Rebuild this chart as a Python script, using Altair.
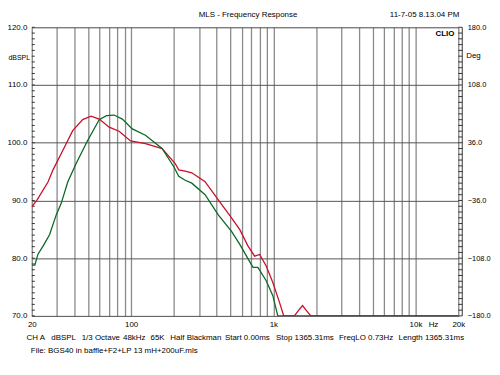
import altair as alt
import pandas as pd

# ---------------- data ----------------
red_freq = [20, 21.8, 26.0, 28.2, 33.1, 38.8, 45.6, 52.2, 59.6, 70, 82.2, 99, 126, 165, 204,
            216, 240, 267, 331, 410, 508, 581, 664, 739, 801, 891, 992, 1105, 1184, 1406,
            1500, 1606, 1700, 1835, 20000]
red_db = [88.9, 90.1, 93.2, 95.3, 98.7, 102.1, 104.0, 104.6, 104.1, 102.7, 102.0, 100.3, 99.85, 99.0, 96.4,
          95.3, 95.1, 94.8, 93.25, 90.1, 87.0, 84.95, 82.1, 80.36, 80.65, 78.64, 75.8, 72.35, 70.0, 70.0,
          70.9, 71.8, 71.0, 70.0, 70.0]

green_freq = [20, 21, 22.1, 24, 26.7, 29.7, 32.2, 35.8, 41, 49.4, 59.6, 67, 75.9, 86.7, 101.8, 126,
              165, 200, 216, 240, 267, 331, 410, 508, 581, 719, 779, 891, 992, 1075, 20000]
green_db = [78.8, 78.8, 80.7, 82.1, 84.1, 87.5, 89.5, 93.2, 96.4, 100.4, 104.0, 104.7, 104.8, 104.1, 102.4, 101.3,
            99.0, 95.8, 94.2, 93.5, 93.0, 91.0, 87.5, 84.65, 82.4, 78.4, 78.4, 76.1, 73.5, 70.0, 70.0]

grid_freqs = [20, 30, 40, 50, 60, 70, 80, 90, 100, 200, 300, 400, 500, 600, 700, 800, 900,
              1000, 2000, 3000, 4000, 5000, 6000, 7000, 8000, 9000, 10000, 20000]
db_ticks = [70, 80, 90, 100, 110, 120]
db_minor = list(range(70, 121))
deg_ticks = [-180, -108, -36, 36, 108, 180]
deg_minor = [-180 + 7.2 * i for i in range(51)]

title_text = "MLS - Frequency Response"
date_text = "11-7-05 8.13.04 PM"
footer_items = ["CH A", "dBSPL", "1/3 Octave", "48kHz", "65K", "Half Blackman",
                "Start 0.00ms", "Stop 1365.31ms", "FreqLO 0.73Hz", "Length 1365.31ms"]
file_text = "File: BGS40 in baffle+F2+LP 13 mH+200uF.mls"

# ---------------- style / layout ----------------
FONT = "Liberation Sans"
FS = 8
W, H = 430, 291
RED = "#c8102a"
GREEN = "#0b6a25"
footer_x = [-5.3, 19.7, 50.3, 92, 119.7, 139.7, 194.7, 246.3, 309.7, 369.7]

red_df = pd.DataFrame({"freq": red_freq, "db": red_db})
green_df = pd.DataFrame({"freq": green_freq, "db": green_db})
one = alt.Data(values=[{}])

xscale = alt.Scale(type="log", domain=[20, 20000], nice=False)
yscale = alt.Scale(domain=[70, 120], nice=False, zero=False)

label_expr = ("datum.value == 20 ? '20' : datum.value == 100 ? '100' : datum.value == 1000 ? '1k' : "
              "datum.value == 10000 ? '10k' : datum.value == 20000 ? '20k' : ''")
xaxis = alt.Axis(values=grid_freqs, grid=True, gridColor="#8a8a8a", gridWidth=1.3,
                 ticks=False, tickSize=0, domain=False, labelExpr=label_expr, labelFlush=False,
                 labelOverlap=False, labelFont=FONT, labelFontSize=FS, labelColor="black",
                 labelPadding=5, title=None)
yaxis = alt.Axis(values=db_ticks, format=".1f", grid=True, gridColor="#555555", gridWidth=1,
                 ticks=False, tickSize=0, domain=False, labelFont=FONT, labelFontSize=FS,
                 labelColor="black", labelPadding=5, title=None)


def txt(s, x, y, align="left", bold=False, size=FS):
    return alt.Chart(one).mark_text(text=s, align=align, baseline="middle", font=FONT,
                                    fontSize=size, fontWeight="bold" if bold else "normal",
                                    color="black").encode(x=alt.value(x), y=alt.value(y))


green_line = alt.Chart(green_df).mark_line(color=GREEN, strokeWidth=1.3, clip=True).encode(
    x=alt.X("freq:Q", scale=xscale, axis=xaxis),
    y=alt.Y("db:Q", scale=yscale, axis=yaxis),
)
red_line = alt.Chart(red_df).mark_line(color=RED, strokeWidth=1.3, clip=True).encode(
    x=alt.X("freq:Q", scale=xscale, axis=xaxis),
    y=alt.Y("db:Q", scale=yscale, axis=yaxis),
)

left_ticks = alt.Chart(pd.DataFrame({"db": db_minor})).mark_rule(color="#333333", strokeWidth=1).encode(
    y=alt.Y("db:Q", scale=yscale, axis=yaxis), x=alt.value(0), x2=alt.value(3)
)

texts = [
    txt(title_text, 218, -12, align="center"),
    txt(date_text, 361, -12),
    txt("dBSPL", -23.5, 31, size=7),
    txt("Deg", 438, 29),
    txt("CLIO", 416.5, 6.5, align="center", bold=True),
    txt("Hz", 405, 300.5, align="center"),
    txt(file_text, -1, 326.5),
] + [txt(s, x, 313) for s, x in zip(footer_items, footer_x)]

inner = alt.layer(left_ticks, red_line, green_line, *texts)

deg_scale = alt.Scale(domain=[-180, 180], nice=False, zero=False)
right_axis = alt.Axis(orient="right", values=deg_ticks, format=".1f", grid=False, ticks=False,
                      tickSize=0, domain=False, labelFont=FONT, labelFontSize=7.5,
                      labelColor="black", labelPadding=9, title=None)
right_ticks = alt.Chart(pd.DataFrame({"deg": deg_minor})).mark_rule(color="#333333", strokeWidth=1).encode(
    y=alt.Y("deg:Q", scale=deg_scale, axis=right_axis), x=alt.value(430), x2=alt.value(434)
)
right_line = alt.Chart(one).mark_rule(color="#333333", strokeWidth=1).encode(
    x=alt.value(434), y=alt.value(0), y2=alt.value(H)
)
right = alt.layer(right_ticks, right_line)

chart = alt.layer(inner, right).resolve_scale(y="independent").properties(
    width=W, height=H,
    padding={"left": 24, "top": 18, "right": 34, "bottom": 43},
    autosize=alt.AutoSizeParams(type="none"),
).configure_view(stroke="black", strokeWidth=1).configure(background="white")

chart.save("out.html", embed_options={"renderer": "svg", "actions": False})
